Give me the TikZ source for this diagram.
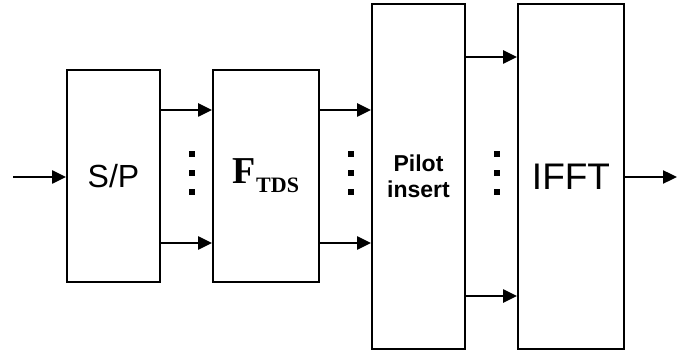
\documentclass[tikz,border=0pt]{standalone}
\usepackage{fontspec}
\setmainfont{Liberation Sans}
\newfontfamily\timesfont{Liberation Serif}
\usetikzlibrary{arrows.meta}
\begin{document}
\begin{tikzpicture}[x=1pt,y=-1pt,
  blk/.style={draw,line width=1.9pt,inner sep=0pt,anchor=center},
  arr/.style={line width=2.4pt,-{Triangle[length=14pt,width=13pt]}},
  sq/.style={fill=black,inner sep=0pt,minimum size=5.5pt}]
\useasboundingbox (0,0) rectangle (699,358);
\node[blk,minimum width=93pt,minimum height=212pt] (sp) at (113.5,176) {\fontsize{32}{36}\selectfont S/P};
\node[blk,minimum width=106pt,minimum height=212pt] (ftds) at (266,176) {\timesfont\bfseries\fontsize{38}{40}\selectfont F\raisebox{-9pt}{\fontsize{22}{24}\selectfont TDS}};
\node[blk,minimum width=93pt,minimum height=345pt,align=center,font=\bfseries\fontsize{23}{26}\selectfont] (pilot) at (418.5,176.5) {Pilot\\insert};
\node[blk,minimum width=106pt,minimum height=345pt] (ifft) at (571,176.5) {\fontsize{37}{40}\selectfont IFFT};
\coordinate (in) at (13,177);
\coordinate (out) at (677,177);
\draw[arr] (in) -- (sp.west |- in);
\draw[arr] (ifft.east |- out) -- (out);
\foreach \y in {110,243} {
  \draw[arr] (sp.east |- 0,\y) -- (ftds.west |- 0,\y);
  \draw[arr] (ftds.east |- 0,\y) -- (pilot.west |- 0,\y);
}
\foreach \y in {57,296} {
  \draw[arr] (pilot.east |- 0,\y) -- (ifft.west |- 0,\y);
}
\foreach \x/\n in {192/a,351/b,497/c} {
  \node[sq] (d\n1) at (\x,154) {};
  \node[sq] (d\n2) at (\x,173) {};
  \node[sq] (d\n3) at (\x,192) {};
}
\end{tikzpicture}
\end{document}
